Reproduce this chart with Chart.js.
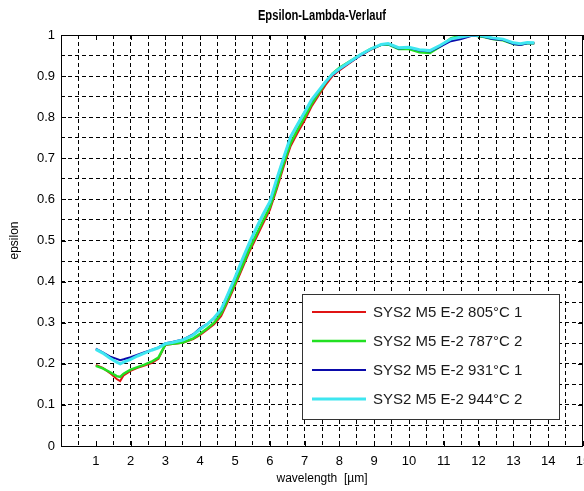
<!DOCTYPE html>
<html>
<head>
<meta charset="utf-8">
<script src="https://cdn.jsdelivr.net/npm/chart.js@4/dist/chart.umd.min.js"></script>
<style>
  html, body { margin: 0; padding: 0; background: #fff; }
  #wrap { width: 584px; height: 491px; }
</style>
</head>
<body>
<div id="wrap"><canvas id="c" width="584" height="491"></canvas></div>
<script>
// Wavelength sampling points [µm]
const wavelength = [1.0, 1.2, 1.4, 1.6, 1.7, 1.8, 2.0, 2.2, 2.4, 2.6, 2.8, 3.0, 3.2, 3.5, 3.8, 4.0,
  4.2, 4.4, 4.6, 4.8, 5.0, 5.2, 5.4, 5.6, 5.8, 6.0, 6.2, 6.4, 6.6, 6.8, 7.0, 7.2, 7.4, 7.6, 7.8,
  8.0, 8.3, 8.6, 8.9, 9.2, 9.4, 9.7, 10.0, 10.3, 10.6, 10.9, 11.2, 11.5, 11.8, 12.1, 12.4, 12.7,
  13.0, 13.2, 13.4, 13.6];

// Emissivity per sample
const eps805_1 = [0.197, 0.190, 0.178, 0.163, 0.158, 0.172, 0.183, 0.190, 0.196, 0.202, 0.212, 0.246,
  0.248, 0.251, 0.260, 0.270, 0.283, 0.296, 0.316, 0.352, 0.390, 0.430, 0.470, 0.505, 0.540, 0.574,
  0.625, 0.680, 0.730, 0.762, 0.792, 0.826, 0.852, 0.878, 0.900, 0.914, 0.932, 0.950, 0.964, 0.976,
  0.978, 0.968, 0.969, 0.963, 0.961, 0.973, 0.988, 0.993, 0.999, 0.997, 0.991, 0.988, 0.979, 0.977,
  0.980, 0.980];
const eps787_2 = [0.195, 0.189, 0.180, 0.170, 0.168, 0.176, 0.186, 0.192, 0.198, 0.205, 0.215, 0.247,
  0.249, 0.252, 0.262, 0.273, 0.286, 0.300, 0.322, 0.358, 0.396, 0.436, 0.476, 0.512, 0.547, 0.581,
  0.632, 0.688, 0.737, 0.770, 0.800, 0.832, 0.858, 0.884, 0.906, 0.920, 0.936, 0.952, 0.966, 0.976,
  0.977, 0.966, 0.966, 0.958, 0.956, 0.972, 0.992, 0.999, 1.000, 0.996, 0.990, 0.987, 0.978, 0.977,
  0.980, 0.980];
const eps931_1 = [0.237, 0.228, 0.218, 0.212, 0.209, 0.211, 0.216, 0.222, 0.228, 0.234, 0.240, 0.250,
  0.253, 0.259, 0.272, 0.287, 0.297, 0.310, 0.330, 0.368, 0.408, 0.450, 0.490, 0.527, 0.562, 0.592,
  0.648, 0.700, 0.752, 0.782, 0.812, 0.840, 0.863, 0.885, 0.903, 0.916, 0.933, 0.950, 0.965, 0.976,
  0.978, 0.967, 0.969, 0.962, 0.960, 0.972, 0.985, 0.990, 0.998, 0.997, 0.990, 0.988, 0.978, 0.976,
  0.980, 0.980];
const eps944_2 = [0.235, 0.226, 0.214, 0.204, 0.200, 0.204, 0.211, 0.219, 0.226, 0.233, 0.239, 0.249,
  0.252, 0.258, 0.270, 0.284, 0.296, 0.312, 0.332, 0.370, 0.410, 0.452, 0.492, 0.528, 0.563, 0.594,
  0.650, 0.702, 0.753, 0.783, 0.812, 0.842, 0.864, 0.886, 0.905, 0.918, 0.935, 0.952, 0.966, 0.977,
  0.979, 0.969, 0.970, 0.964, 0.962, 0.975, 0.990, 0.995, 1.000, 0.998, 0.993, 0.990, 0.981, 0.979,
  0.982, 0.981];

const seriesLabels = ['SYS2 M5 E-2 805°C 1', 'SYS2 M5 E-2 787°C 2', 'SYS2 M5 E-2 931°C 1', 'SYS2 M5 E-2 944°C 2'];
const seriesValues = [eps805_1, eps787_2, eps931_1, eps944_2];
const seriesColors = ['#e01414', '#22e022', '#0a0aaa', '#3ee6f0'];
const seriesWidths = [2, 2.5, 2, 3];

const xTickLabels = ['1', '2', '3', '4', '5', '6', '7', '8', '9', '10', '11', '12', '13', '14', '15'];
const yTickLabels = ['0', '0.1', '0.2', '0.3', '0.4', '0.5', '0.6', '0.7', '0.8', '0.9', '1'];

const chartTitle = 'Epsilon-Lambda-Verlauf';
const FONT = '"Liberation Sans", Arial, sans-serif';

// later series are drawn on top (lower order = drawn last)
const datasets = seriesValues.map((vals, i) => ({
  label: seriesLabels[i],
  data: wavelength.map((w, k) => ({ x: w, y: vals[k] })),
  borderColor: seriesColors[i],
  backgroundColor: seriesColors[i],
  borderWidth: seriesWidths[i],
  order: seriesValues.length - i,
  pointRadius: 0,
  tension: 0,
  fill: false
}));

const near = (a, b) => Math.abs(a - b) < 1e-6;

// Title over the plot area, frame, inward tick marks and the boxed legend
const framePlugin = {
  id: 'frame',
  afterDatasetsDraw(chart) {
    const { ctx, chartArea: a, scales } = chart;
    const xs = scales.x, ys = scales.y;
    ctx.save();

    // condensed bold title, centred over the plot area
    ctx.save();
    ctx.fillStyle = '#000';
    ctx.font = 'bold 14px ' + FONT;
    ctx.textAlign = 'center';
    ctx.textBaseline = 'middle';
    ctx.translate((a.left + a.right) / 2, 16);
    ctx.scale(0.8, 1);
    ctx.fillText(chartTitle, 0, 0);
    ctx.restore();

    ctx.strokeStyle = '#000';
    ctx.lineWidth = 1;
    ctx.setLineDash([]);
    ctx.beginPath();
    for (let v = 1; v <= 15; v++) {
      const px = Math.round(xs.getPixelForValue(v)) + 0.5;
      ctx.moveTo(px, a.bottom); ctx.lineTo(px, a.bottom - 5);
      ctx.moveTo(px, a.top); ctx.lineTo(px, a.top + 5);
    }
    for (let k = 1; k < 10; k++) {
      const py = Math.round(ys.getPixelForValue(k / 10)) + 0.5;
      ctx.moveTo(a.left, py); ctx.lineTo(a.left + 5, py);
      ctx.moveTo(a.right, py); ctx.lineTo(a.right - 5, py);
    }
    ctx.stroke();
    ctx.strokeRect(Math.round(a.left) + 0.5, Math.round(a.top) + 0.5,
      Math.round(a.right - a.left) - 1, Math.round(a.bottom - a.top));

    // legend box
    const bx = 302, by = 294, bw = 257, bh = 125;
    ctx.fillStyle = '#fff';
    ctx.fillRect(bx, by, bw, bh);
    ctx.strokeStyle = '#333';
    ctx.strokeRect(bx + 0.5, by + 0.5, bw, bh);
    ctx.font = '15px ' + FONT;
    ctx.textBaseline = 'middle';
    ctx.textAlign = 'left';
    chart.data.datasets.forEach((ds, i) => {
      const cy = by + 18 + i * 29;
      ctx.strokeStyle = ds.borderColor;
      ctx.lineWidth = ds.borderWidth;
      ctx.beginPath();
      ctx.moveTo(312, cy); ctx.lineTo(366, cy);
      ctx.stroke();
      ctx.fillStyle = '#1a1a1a';
      ctx.fillText(ds.label, 373, cy + 1);
    });
    ctx.restore();
  }
};

new Chart(document.getElementById('c'), {
  type: 'line',
  data: { datasets },
  plugins: [framePlugin],
  options: {
    responsive: false,
    animation: false,
    layout: { padding: { left: 0, right: 1, top: 35, bottom: 0 } },
    plugins: {
      legend: { display: false },
      tooltip: { enabled: false },
      title: { display: false }
    },
    scales: {
      x: {
        type: 'linear',
        min: 0, max: 15,
        afterFit(s) { s.height = 45; s.paddingLeft = 0; s.paddingRight = 0; },
        afterBuildTicks(s) {
          const t = [];
          for (let v = 0; v <= 30; v++) t.push({ value: v / 2 });
          s.ticks = t;
        },
        border: { display: false, dash: [4, 3] },
        grid: {
          drawTicks: false,
          color: c => {
            const v = c.tick.value;
            if (near(v, 0) || near(v, 15) || near(v, 1)) return 'rgba(0,0,0,0)';
            return '#000';
          },
          lineWidth: 1
        },
        ticks: {
          autoSkip: false,
          maxRotation: 0,
          color: '#000',
          padding: 8,
          font: { family: FONT, size: 13 },
          callback: v => {
            const idx = xTickLabels.indexOf(String(v));
            return idx >= 0 ? xTickLabels[idx] : '';
          }
        },
        title: {
          display: true,
          text: 'wavelength  [µm]',
          color: '#000',
          font: { family: FONT, size: 12 },
          padding: { top: 0, bottom: 5 }
        }
      },
      y: {
        type: 'linear',
        min: 0, max: 1,
        afterFit(s) { s.width = 61; s.paddingTop = 0; s.paddingBottom = 0; },
        afterBuildTicks(s) {
          const t = [];
          for (let k = 0; k <= 20; k++) t.push({ value: k / 20 });
          s.ticks = t;
        },
        border: { display: false, dash: [4, 3] },
        grid: {
          drawTicks: false,
          color: c => {
            const v = c.tick.value;
            if (near(v, 0) || near(v, 1)) return 'rgba(0,0,0,0)';
            return '#000';
          },
          lineWidth: 1
        },
        ticks: {
          autoSkip: false,
          color: '#000',
          padding: 6,
          font: { family: FONT, size: 13 },
          callback: v => {
            const k = Math.round(v * 20);
            return k % 2 === 0 ? yTickLabels[k / 2] : '';
          }
        },
        title: {
          display: true,
          text: 'epsilon',
          color: '#000',
          font: { family: FONT, size: 12 },
          padding: { top: 7, bottom: 4 }
        }
      }
    }
  }
});
</script>
</body>
</html>
